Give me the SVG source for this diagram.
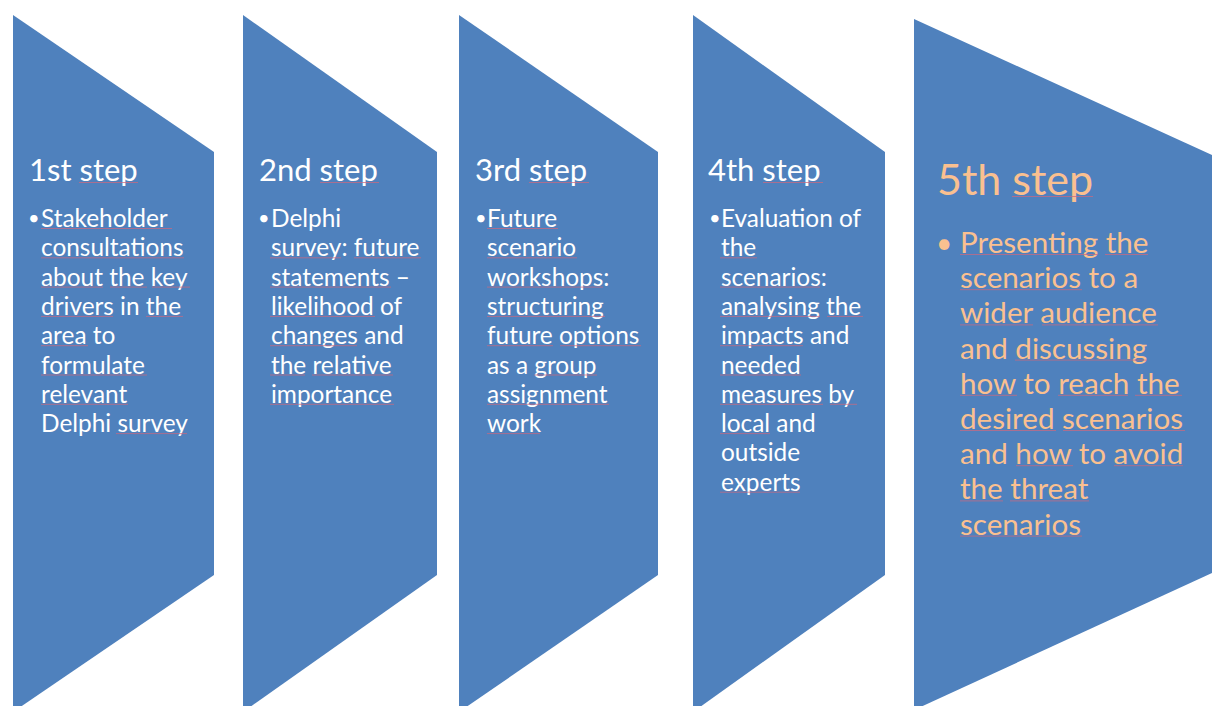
<svg xmlns="http://www.w3.org/2000/svg" width="1212" height="706" viewBox="0 0 1212 706">
  <style>
    .shape { fill: #4F81BD; }
    .head { font-family: Lato, "Open Sans", sans-serif; font-size: 31px; fill: #FFFFFF; }
    .body { font-family: Lato, "Open Sans", sans-serif; font-size: 24.4px; fill: #FFFFFF; }
    .dot { font-family: Lato, "Open Sans", sans-serif; font-size: 20px; fill: #FFFFFF; }
    .head5 { font-family: Lato, "Open Sans", sans-serif; font-size: 43px; fill: #FAC090; }
    .body5 { font-family: Lato, "Open Sans", sans-serif; font-size: 29.6px; fill: #FAC090; }
    .dot5 { font-family: Lato, "Open Sans", sans-serif; font-size: 28px; fill: #FAC090; }
    .spell { stroke: #C86A82; stroke-width: 1; stroke-opacity: 0.75; fill: none; }
  </style>

  <rect width="1212" height="706" fill="#FFFFFF"/>

  <!-- Step 1 -->
  <g id="step1">
    <polygon class="shape" points="13,15 214,152 214,575 13,712"/>
    <text class="head" x="29" y="181">1st step</text>
    <text class="dot" x="28" y="225">•</text>
    <text class="body">
      <tspan x="41" y="227">Stakeholder</tspan>
      <tspan x="41" y="256.3">consultations</tspan>
      <tspan x="41" y="285.6">about the key</tspan>
      <tspan x="41" y="314.9">drivers in the</tspan>
      <tspan x="41" y="344.2">area to</tspan>
      <tspan x="41" y="373.5">formulate</tspan>
      <tspan x="41" y="402.8">relevant</tspan>
      <tspan x="41" y="432.1">Delphi survey</tspan>
    </text>
    <path class="spell" d="M79,182.5H138 M41,228.5H172 M41,257.8H184 M41,287.1H103 M110,287.1H147 M152,287.1H190 M41,316.4H113 M146,316.4H183 M41,345.7H88 M41,375H147 M41,404.3H128 M116,433.6H187"/>
  </g>

  <!-- Step 2 -->
  <g id="step2">
    <polygon class="shape" points="243,15 437,152 437,575 243,712"/>
    <text class="head" x="259" y="181">2nd step</text>
    <text class="dot" x="258" y="225">•</text>
    <text class="body">
      <tspan x="271" y="227">Delphi</tspan>
      <tspan x="271" y="256.3">survey: future</tspan>
      <tspan x="271" y="285.6">statements –</tspan>
      <tspan x="271" y="314.9">likelihood of</tspan>
      <tspan x="271" y="344.2">changes and</tspan>
      <tspan x="271" y="373.5">the relative</tspan>
      <tspan x="271" y="402.8">importance</tspan>
    </text>
    <path class="spell" d="M320,182.5H379 M270,257.8H341 M354,257.8H421 M270,287.1H391 M270,316.4H375 M270,345.7H357 M270,375H305 M312,375H393 M270,404.3H394"/>
  </g>

  <!-- Step 3 -->
  <g id="step3">
    <polygon class="shape" points="459,15 658,152 658,575 459,712"/>
    <text class="head" x="475" y="181">3rd step</text>
    <text class="dot" x="475" y="225">•</text>
    <text class="body">
      <tspan x="487" y="227">Future</tspan>
      <tspan x="487" y="256.3">scenario</tspan>
      <tspan x="487" y="285.6">workshops:</tspan>
      <tspan x="487" y="314.9">structuring</tspan>
      <tspan x="487" y="344.2">future options</tspan>
      <tspan x="487" y="373.5">as a group</tspan>
      <tspan x="487" y="402.8">assignment</tspan>
      <tspan x="487" y="432.1">work</tspan>
    </text>
    <path class="spell" d="M529,182.5H589 M487,228.5H558 M487,257.8H577 M487,287.1H603 M487,316.4H605 M487,345.7H553 M560,345.7H641 M534,375H597 M487,404.3H609 M487,433.6H540"/>
  </g>

  <!-- Step 4 -->
  <g id="step4">
    <polygon class="shape" points="693,15 885,152 885,575 693,712"/>
    <text class="head" x="708" y="181">4th step</text>
    <text class="dot" x="709" y="225">•</text>
    <text class="body">
      <tspan x="721" y="227">Evaluation of</tspan>
      <tspan x="721" y="256.3">the</tspan>
      <tspan x="721" y="285.6">scenarios:</tspan>
      <tspan x="721" y="314.9">analysing the</tspan>
      <tspan x="721" y="344.2">impacts and</tspan>
      <tspan x="721" y="373.5">needed</tspan>
      <tspan x="721" y="402.8">measures by</tspan>
      <tspan x="721" y="432.1">local and</tspan>
      <tspan x="721" y="461.4">outside</tspan>
      <tspan x="721" y="490.7">experts</tspan>
    </text>
    <path class="spell" d="M763,182.5H823 M720,257.8H757 M720,287.1H820 M720,316.4H820 M827,316.4H863 M720,345.7H803 M720,375H801 M720,404.3H823 M830,404.3H857 M720,433.6H770 M720,492.2H800"/>
  </g>

  <!-- Step 5 -->
  <g id="step5">
    <polygon class="shape" points="914,19 1212,155 1212,573 914,710"/>
    <text class="head5" x="937" y="195">5th step</text>
    <text class="dot5" x="936" y="253">•</text>
    <text class="body5">
      <tspan x="960" y="253">Presenting the</tspan>
      <tspan x="960" y="288.2">scenarios to a</tspan>
      <tspan x="960" y="323.4">wider audience</tspan>
      <tspan x="960" y="358.6">and discussing</tspan>
      <tspan x="960" y="393.8">how to reach the</tspan>
      <tspan x="960" y="429">desired scenarios</tspan>
      <tspan x="960" y="464.2">and how to avoid</tspan>
      <tspan x="960" y="499.4">the threat</tspan>
      <tspan x="960" y="534.6">scenarios</tspan>
    </text>
    <path class="spell" d="M1012,196.5H1093 M960,254.5H1098 M1105,254.5H1148 M960,289.7H1082 M960,324.9H1033 M1042,324.9H1158 M1015,360.1H1147 M960,395.3H1017 M1058,395.3H1128 M1135,395.3H1182 M960,430.5H1056 M1063,430.5H1185 M1016,465.7H1073 M1114,465.7H1183 M960,500.9H1003 M1010,500.9H1089 M960,536.1H1082"/>
  </g>
</svg>
